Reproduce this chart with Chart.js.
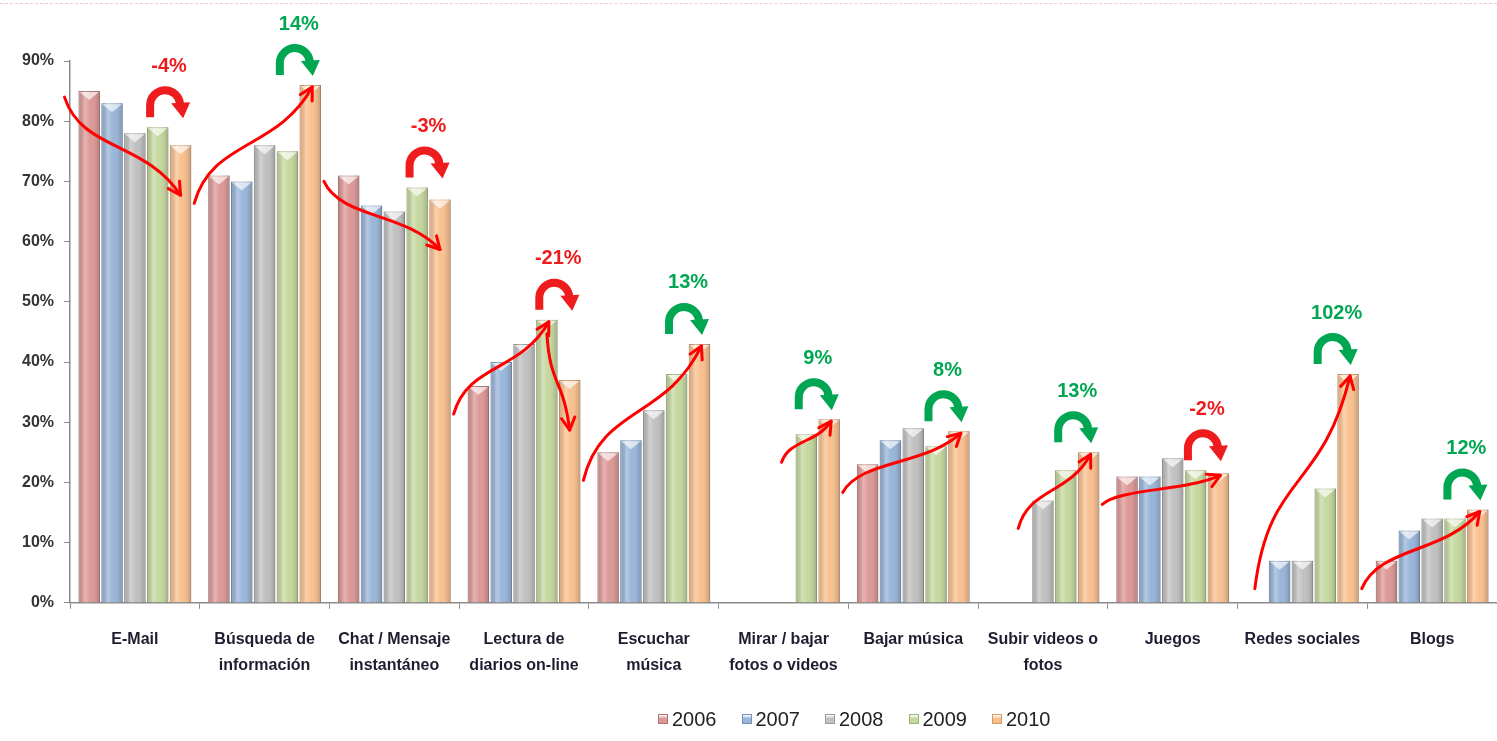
<!DOCTYPE html>
<html>
<head>
<meta charset="utf-8">
<script src="https://cdn.jsdelivr.net/npm/chart.js@4.4.1/dist/chart.umd.min.js"></script>
<style>
  html, body { margin: 0; padding: 0; background: #fff; }
  #wrap { position: relative; width: 1497px; height: 741px; }
  #topline { position: absolute; left: 0; right: 0; top: 3px; border-top: 1px dashed #f6c9c9; }
  #legend { position: absolute; left: 658px; top: 707px; height: 24px; display: flex; align-items: center;
            font: 20px "Liberation Sans", Arial, sans-serif; color: #222; }
  #legend .item { display: flex; align-items: center; margin-right: 25px; }
  #legend .box { width: 10px; height: 10px; margin-right: 4px; box-sizing: border-box; }
</style>
</head>
<body>
<div id="wrap">
  <div id="topline"></div>
  <canvas id="chart"></canvas>
  <div id="legend"></div>
</div>
<script>
// categorias (eje X)
const categories = [
  ['E-Mail'], ['Búsqueda de', 'información'], ['Chat / Mensaje', 'instantáneo'],
  ['Lectura de', 'diarios on-line'], ['Escuchar', 'música'], ['Mirar / bajar', 'fotos o videos'],
  ['Bajar música'], ['Subir videos o', 'fotos'], ['Juegos'], ['Redes sociales'], ['Blogs']
]
const years = ['2006', '2007', '2008', '2009', '2010']

// valores en %
const values2006 = [85, 71, 71, 36, 25, null, 23, null, 21, null, 7]
const values2007 = [83, 70, 66, 40, 27, null, 27, null, 21, 7, 12]
const values2008 = [78, 76, 65, 43, 32, null, 29, 17, 24, 7, 14]
const values2009 = [79, 75, 69, 47, 38, 28, 26, 22, 22, 19, 14]
const values2010 = [76, 86, 67, 37, 43, 30.5, 28.5, 25, 21.5, 38, 15.5]

// variacion 2009 -> 2010
const changeLabels = ['-4%', '14%', '-3%', '-21%', '13%', '9%', '8%', '13%', '-2%', '102%', '12%']
// tramos de la flecha de tendencia (indices de año)
const trendStops = [[0, 4], [0, 4], [0, 4], [0, 3, 4], [0, 4], [3, 4], [0, 4], [2, 4], [0, 4], [1, 4], [0, 4]]

const yTicks = [0, 10, 20, 30, 40, 50, 60, 70, 80, 90]

const fills = ['#dc9896', '#98b5d9', '#c0c0c0', '#c5d89e', '#f9c08e']
const borders = ['#b57472', '#7393bb', '#9a9a9a', '#9fb47a', '#d29a6a']
const RED = '#ee1c1c'
const GREEN = '#00a651'

const allValues = [values2006, values2007, values2008, values2009, values2010]

// leyenda en HTML
const legendEl = document.getElementById('legend')
years.forEach((y, d) => {
  legendEl.innerHTML += `<span class="item"><span class="box" style="background:linear-gradient(180deg, #fff 0%, ${fills[d]} 45%, ${fills[d]} 100%);border:1px solid ${borders[d]}"></span>${y}</span>`
})

// sombreado tipo cilindro + triangulo claro arriba
const barShade = {
  id: 'barShade',
  afterDatasetsDraw(chart) {
    const ctx = chart.ctx
    ctx.save()
    chart.data.datasets.forEach((ds, d) => {
      const meta = chart.getDatasetMeta(d)
      meta.data.forEach((el, i) => {
        if (ds.data[i] == null) return
        const w = el.width, x0 = el.x - w / 2, top = el.y, h = el.base - el.y
        const g = ctx.createLinearGradient(x0, 0, x0 + w, 0)
        g.addColorStop(0, 'rgba(0,0,0,0.10)')
        g.addColorStop(0.3, 'rgba(255,255,255,0.28)')
        g.addColorStop(0.55, 'rgba(255,255,255,0)')
        g.addColorStop(1, 'rgba(0,0,0,0.22)')
        ctx.fillStyle = g
        ctx.fillRect(x0, top, w, h)
        ctx.beginPath()
        ctx.moveTo(x0 + 1, top + 1)
        ctx.lineTo(x0 + w - 1, top + 1)
        ctx.lineTo(el.x, top + 9)
        ctx.closePath()
        ctx.fillStyle = 'rgba(255,255,255,0.65)'
        ctx.fill()
      })
    })
    ctx.restore()
  }
}

function arrowHead(ctx, x, y, ang, len) {
  ctx.beginPath()
  ctx.moveTo(x - len * Math.cos(ang - 0.5), y - len * Math.sin(ang - 0.5))
  ctx.lineTo(x, y)
  ctx.lineTo(x - len * Math.cos(ang + 0.5), y - len * Math.sin(ang + 0.5))
  ctx.stroke()
}

// flechas de tendencia, iconos de giro y porcentajes
const annotations = {
  id: 'annotations',
  afterDraw(chart) {
    const ctx = chart.ctx
    const metas = years.map((y, d) => chart.getDatasetMeta(d))
    ctx.save()
    categories.forEach((c, i) => {
      // tendencia
      const stops = trendStops[i]
      ctx.strokeStyle = '#ff0000'
      ctx.lineWidth = 3
      ctx.lineCap = 'round'
      ctx.lineJoin = 'round'
      for (let s = 0; s < stops.length - 1; s++) {
        const a = metas[stops[s]].data[i], b = metas[stops[s + 1]].data[i]
        const va = allValues[stops[s]][i], vb = allValues[stops[s + 1]][i]
        const rising = vb >= va
        const x0 = s === 0 ? a.x - a.width / 2 - 14 : a.x
        const y0 = s === 0 ? a.y + (rising ? 28 : 6) : a.y + 14
        const x1 = b.x + (rising ? 2 : 0)
        const y1 = rising ? b.y + 2 : b.y + 50
        const dx = x1 - x0, dy = y1 - y0
        const c1x = x0 + dx * 0.15, c1y = y0 + dy * 0.55
        const c2x = x1 - dx * 0.3, c2y = y1 - dy * 0.55
        ctx.beginPath()
        ctx.moveTo(x0, y0)
        ctx.bezierCurveTo(c1x, c1y, c2x, c2y, x1, y1)
        ctx.stroke()
        arrowHead(ctx, x1, y1, Math.atan2(y1 - c2y, x1 - c2x), 14)
      }

      // icono de giro
      const e3 = metas[3].data[i], e4 = metas[4].data[i]
      const up = !changeLabels[i].startsWith('-')
      const col = up ? GREEN : RED
      const mid = (e3.x + e4.x) / 2
      const bottom = Math.min(e3.y, e4.y) - 10
      const r = 15
      const cx = mid - 4
      const cy = bottom - 12
      ctx.strokeStyle = col
      ctx.fillStyle = col
      ctx.lineWidth = 8
      ctx.lineCap = 'butt'
      ctx.beginPath()
      ctx.moveTo(cx - r, bottom)
      ctx.lineTo(cx - r, cy)
      ctx.arc(cx, cy, r, Math.PI, Math.PI * 1.97)
      ctx.stroke()
      ctx.beginPath()
      ctx.moveTo(cx + r - 9, cy - 2)
      ctx.lineTo(cx + r + 10, cy - 3)
      ctx.lineTo(cx + r + 3, bottom + 1)
      ctx.closePath()
      ctx.fill()

      // porcentaje
      ctx.font = 'bold 20px "Liberation Sans", Arial, sans-serif'
      ctx.textAlign = 'center'
      ctx.textBaseline = 'middle'
      ctx.fillText(changeLabels[i], mid, bottom - 51)
    })
    ctx.restore()
  }
}

const datasets = years.map((y, d) => ({
  label: y,
  data: allValues[d],
  backgroundColor: fills[d],
  borderColor: borders[d],
  borderWidth: 1,
  categoryPercentage: 0.88,
  barPercentage: 0.94
}))

new Chart(document.getElementById('chart'), {
  type: 'bar',
  data: { labels: categories, datasets: datasets },
  plugins: [barShade, annotations],
  options: {
    responsive: true,
    maintainAspectRatio: false,
    animation: false,
    layout: { padding: { top: 61, right: 0, left: 0, bottom: 45 } },
    plugins: {
      tooltip: { enabled: false },
      legend: { display: false }
    },
    scales: {
      x: {
        border: { color: '#8c8c8c', width: 1.5 },
        grid: { drawOnChartArea: false, drawTicks: true, tickLength: 6, color: '#8c8c8c', offset: true },
        ticks: {
          color: '#1d1d30',
          padding: 18,
          maxRotation: 0,
          autoSkip: false,
          font: { family: '"Liberation Sans", Arial, sans-serif', size: 16, weight: 'bold', lineHeight: 1.6 }
        }
      },
      y: {
        min: 0,
        max: 90,
        afterBuildTicks(scale) { scale.ticks = yTicks.map(v => ({ value: v })) },
        afterFit(scale) { scale.width = 70 },
        border: { color: '#8c8c8c', width: 1.5 },
        grid: { drawOnChartArea: false, drawTicks: true, tickLength: 6, color: '#8c8c8c' },
        ticks: {
          color: '#333',
          padding: 10,
          callback: v => v + '%',
          font: { family: '"Liberation Sans", Arial, sans-serif', size: 16, weight: 'bold' }
        }
      }
    }
  }
})
</script>
</body>
</html>
